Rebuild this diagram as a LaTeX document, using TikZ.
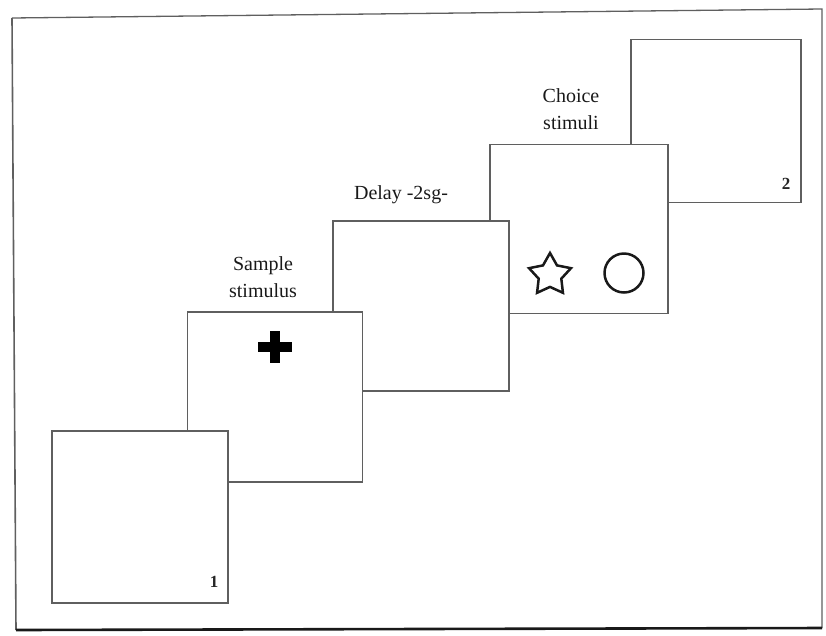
\documentclass[tikz,border=0pt]{standalone}
\usepackage{fontspec}
\setmainfont{Liberation Serif}
\usetikzlibrary{positioning, shapes.geometric}
\definecolor{scan_grey}{RGB}{95,95,95}

\begin{document}
\begin{tikzpicture}[x=1pt, y=-1pt,
      screen/.style={draw=scan_grey, line width=1.4pt, fill=white, inner sep=0pt, minimum width=176pt, minimum height=170pt},
      lbl/.style={font=\fontsize{20}{27}\selectfont, align=center, text=black!90},
      num/.style={font=\fontsize{17}{17}\selectfont\bfseries, text=black!85},
      shp/.style={draw=black!90, line width=2.5pt, inner sep=0pt}]
    \useasboundingbox (0,0) rectangle (826,635);
    % outer frame
    \coordinate (tl) at (12,18);
    \coordinate (tr) at (822,9);
    \coordinate (br) at (822,628);
    \coordinate (bl) at (16,630);
    \draw[scan_grey, line width=1.3pt] (tl) -- (tr) -- (br);
    \draw[scan_grey, line width=1.6pt] (tl) -- (bl);
    \draw[black!90, line width=2.6pt] (bl) -- (br);
    % screens, back to front
    \node[screen, minimum width=170pt, minimum height=163pt] (blanktwo) at (716,121) {};
    \node[screen, minimum width=178pt, minimum height=169pt] (choice) at (579,229) {};
    \node[screen] (delay)  at (421,306) {};
    \node[screen, minimum width=175pt] (sample) at (275,397) {};
    \node[screen, minimum height=172pt] (blankone) at (140,517) {};
    \node[num] (numone) at (214,582) {1};
    \node[num] (numtwo) at (786,184) {2};
    % labels
    \node[lbl] (sampletxt) at (263,277) {Sample\\stimulus};
    \node[lbl] (delaytxt)  at (401,195) {Delay -2sg-};
    \node[lbl] (choicetxt) at (571,109) {Choice\\stimuli};
    % stimuli
    \fill[black] (258,342) rectangle (292,352);
    \fill[black] (270,331) rectangle (280,363);
    \node[shp, star, star points=5, star point ratio=1.85, minimum size=44pt] (star) at (550,275) {};
    \node[shp, circle, minimum size=39pt] (ring) at (624,273) {};
  \end{tikzpicture}
\end{document}
